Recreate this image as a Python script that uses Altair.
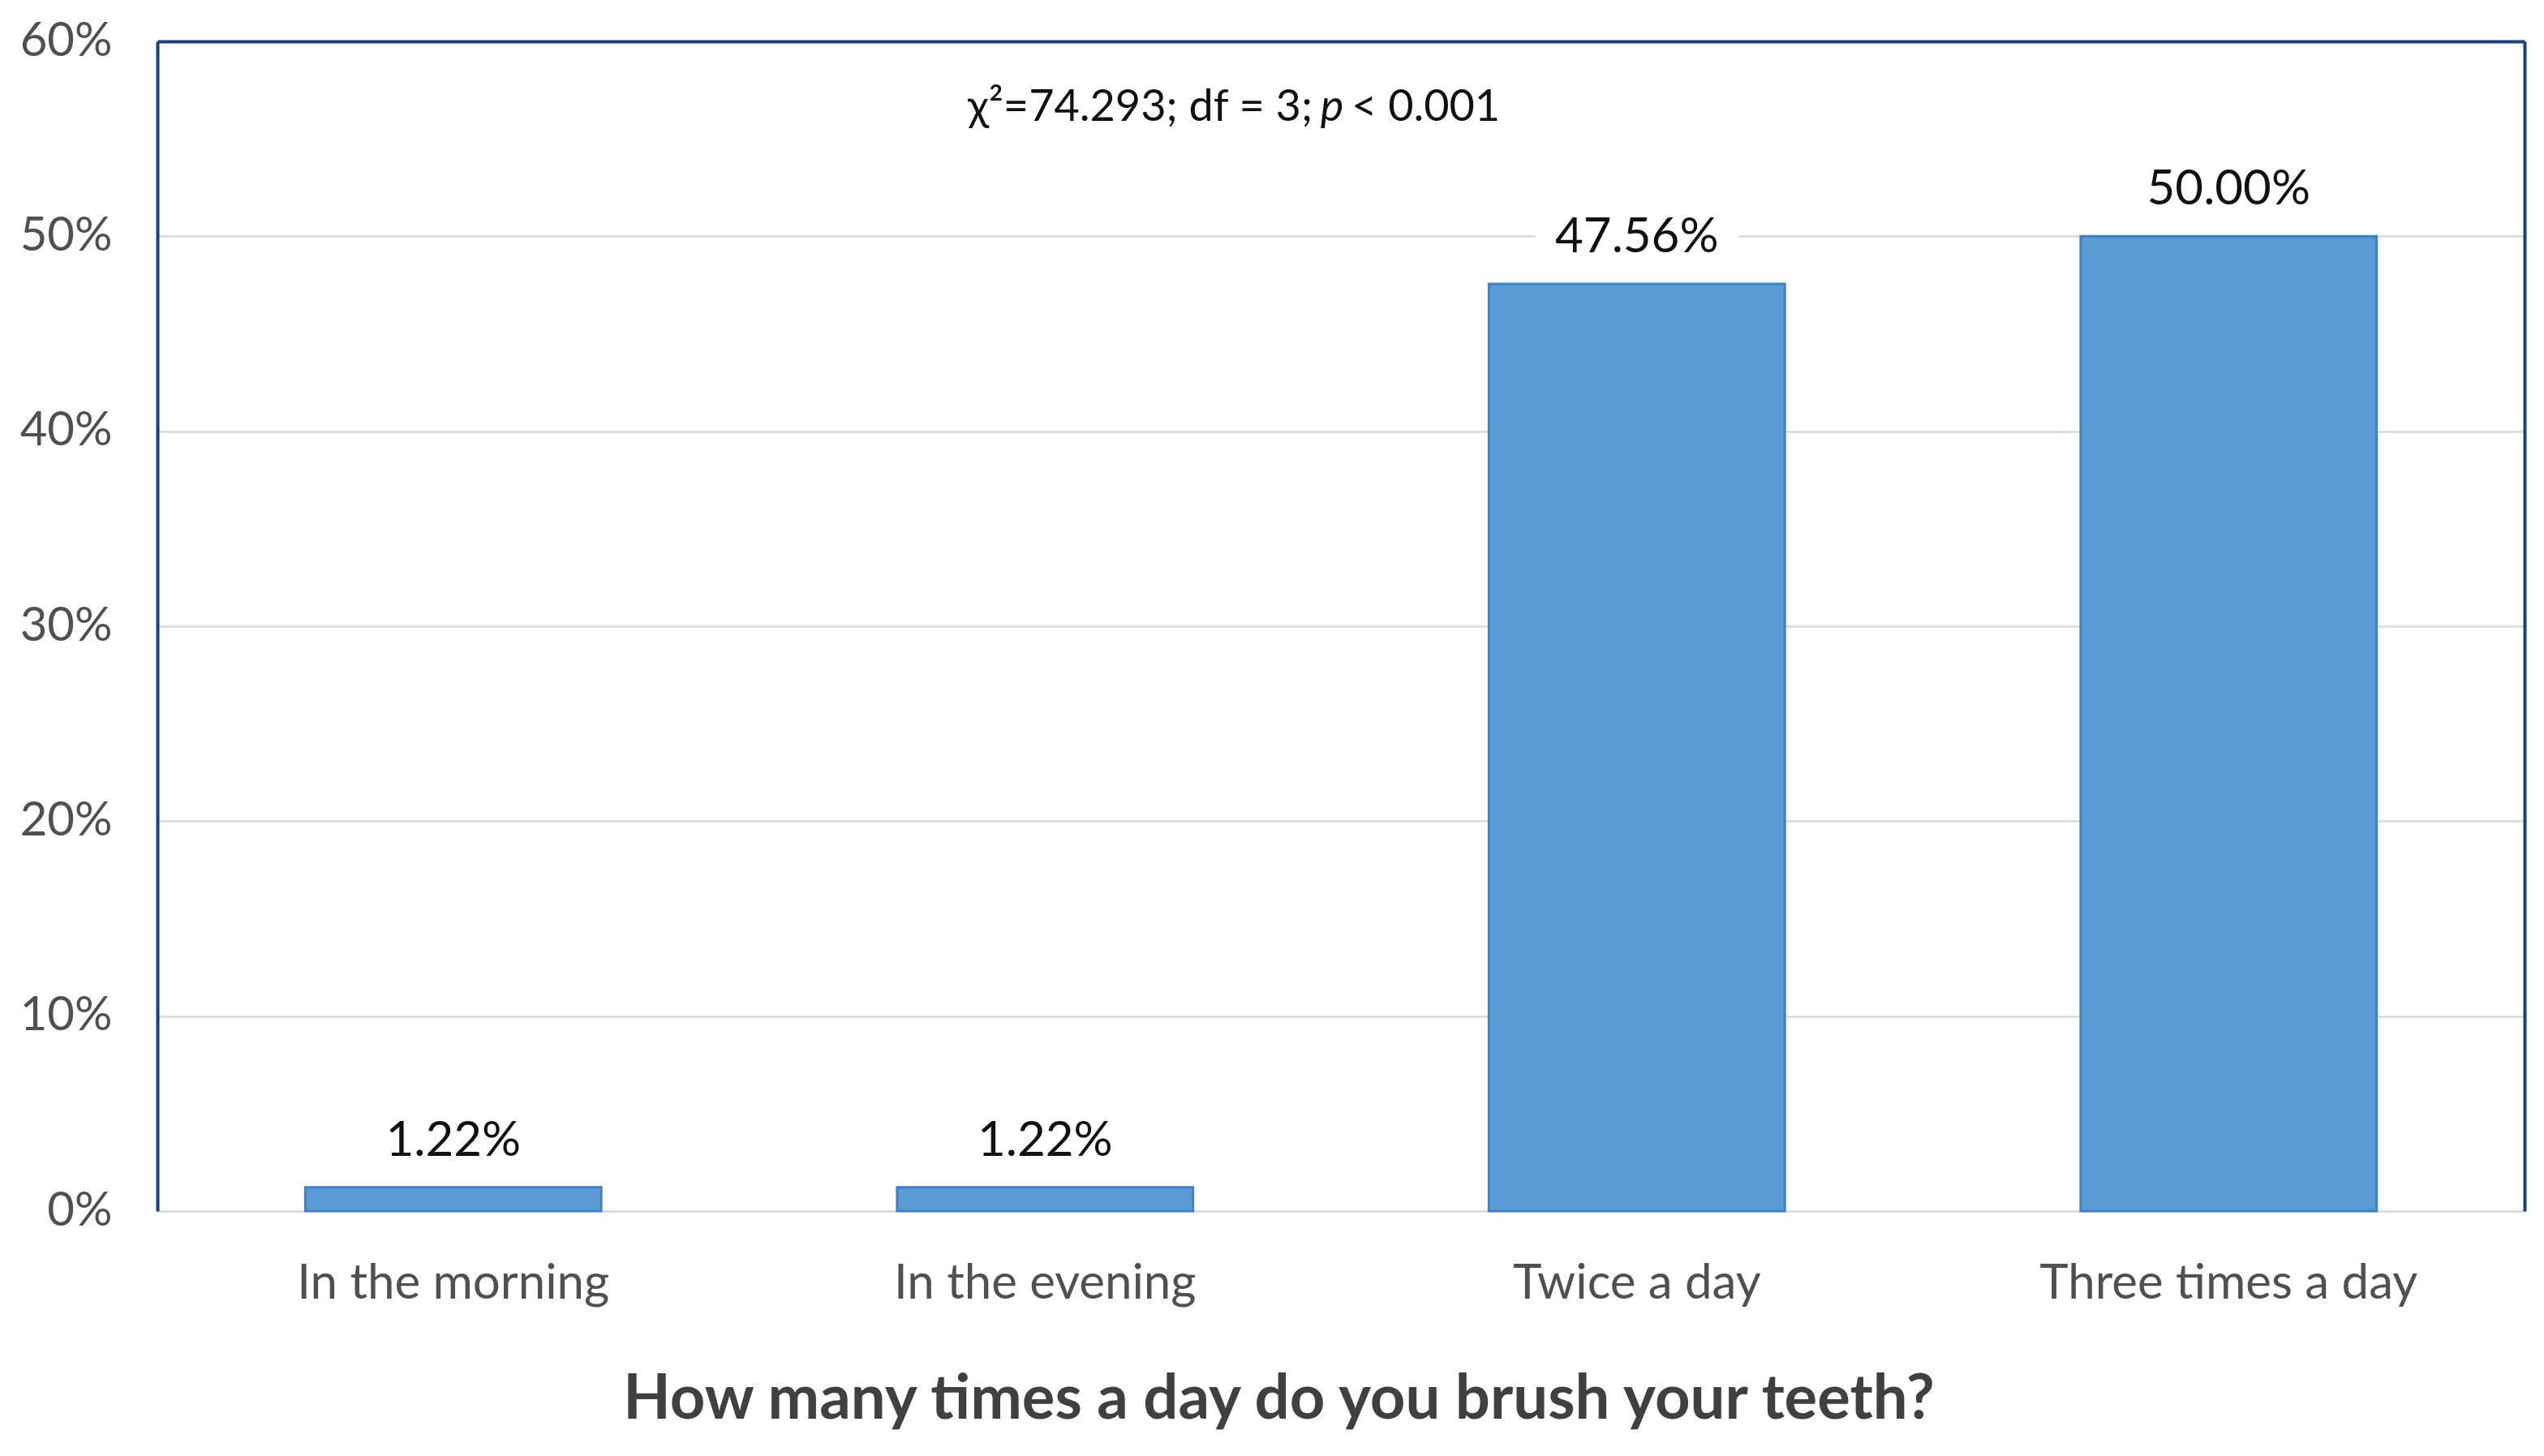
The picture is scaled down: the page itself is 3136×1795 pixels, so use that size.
import altair as alt
import pandas as pd

categories = ["In the morning", "In the evening", "Twice a day", "Three times a day"]
values = [0.0122, 0.0122, 0.4756, 0.5000]
y_ticks = [0, 0.1, 0.2, 0.3, 0.4, 0.5, 0.6]

df = pd.DataFrame({"cat": categories, "val": values})

FONT = "Lato"
FRAME = "#1B3F7F"
W, H = 2918, 1442

x_scale = alt.Scale(domain=categories, paddingInner=0.5, paddingOuter=0.25)
y_scale = alt.Scale(domain=[0, 0.6], nice=False)

bars = alt.Chart(df).mark_bar(
    color="#5B9BD5", stroke="#3F80CC", strokeWidth=3
).encode(
    x=alt.X("cat:N", sort=categories, scale=x_scale,
            axis=alt.Axis(orient="bottom", domain=False, ticks=False, grid=False,
                          labelAngle=0, labelFont=FONT, labelFontSize=60,
                          labelColor="#505050", labelPadding=60, labelLimit=1000,
                          title="How many times a day do you brush your teeth?",
                          titleFont=FONT, titleFontSize=76, titleFontWeight="bold",
                          titleColor="#404040", titleX=1382, titleY=232,
                          titleBaseline="middle")),
    y=alt.Y("val:Q", scale=y_scale,
            axis=alt.Axis(orient="left", values=y_ticks, format=".0%", ticks=False,
                          domain=True, domainColor=FRAME, domainWidth=4,
                          grid=True, gridColor="#D9D9D9", gridWidth=2.5,
                          labelFont=FONT, labelFontSize=58, labelColor="#505050",
                          labelPadding=56, title=None)),
)

boxes = alt.Chart(df).mark_point(
    shape="M-1,-0.25L1,-0.25L1,0.25L-1,0.25Z", filled=True, fill="white",
    opacity=1, strokeWidth=0, size=62500, yOffset=-57
).encode(
    x=alt.X("cat:N", sort=categories, scale=x_scale,
            axis=alt.Axis(orient="top", labels=False, ticks=False, grid=False,
                          domain=True, domainColor=FRAME, domainWidth=4, title=None)),
    y=alt.Y("val:Q", scale=y_scale,
            axis=alt.Axis(orient="right", labels=False, ticks=False, grid=False,
                          domain=True, domainColor=FRAME, domainWidth=4, title=None)),
)

labels = alt.Chart(df).mark_text(
    font=FONT, fontSize=60, color="#111111", baseline="middle", dy=-57
).encode(
    x=alt.X("cat:N", sort=categories, scale=x_scale, axis=None),
    y=alt.Y("val:Q", scale=y_scale, axis=None),
    text=alt.Text("val:Q", format=".2%"),
)

ann_df = pd.DataFrame({"a": ["χ²=74.293; df = 3;"], "b": ["p"], "c": ["< 0.001"]})
ann1 = alt.Chart(ann_df).mark_text(
    font=FONT, fontSize=54, color="#111111", align="right", baseline="middle"
).encode(x=alt.value(1424), y=alt.value(82), text="a:N")
ann2 = alt.Chart(ann_df).mark_text(
    font=FONT, fontSize=54, color="#111111", align="center", baseline="middle",
    fontStyle="italic"
).encode(x=alt.value(1448), y=alt.value(82), text="b:N")
ann3 = alt.Chart(ann_df).mark_text(
    font=FONT, fontSize=54, color="#111111", align="left", baseline="middle"
).encode(x=alt.value(1472), y=alt.value(82), text="c:N")

chart = alt.layer(bars, boxes, labels, ann1, ann2, ann3).resolve_axis(
    x="independent", y="independent"
).properties(
    width=W, height=H, padding={"left": 16, "top": 14, "right": 10, "bottom": 10}
).configure_view(stroke=None).configure(background="white")

chart.save("out.html", embed_options={"renderer": "svg", "actions": False})
